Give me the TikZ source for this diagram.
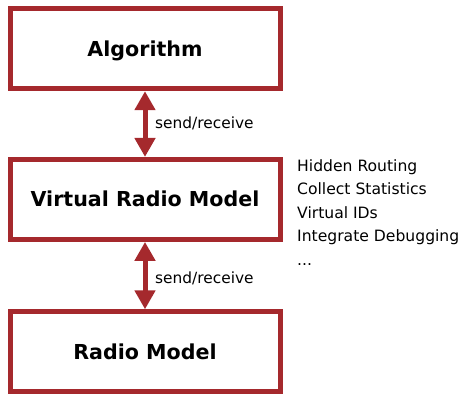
\documentclass[tikz,border=0pt]{standalone}
\usepackage{fontspec}
\setmainfont{DejaVu Sans}
\usetikzlibrary{arrows.meta}
\definecolor{boxred}{RGB}{165,41,45}
\tikzset{
  box/.style={draw=boxred, line width=5pt, fill=white, minimum width=270pt, minimum height=80pt,
    inner sep=0pt, font=\fontsize{20.6}{24}\selectfont\bfseries, text height=15pt, text depth=0pt},
  arr/.style={draw=boxred, line width=5pt, {Triangle[length=19pt,width=20pt]}-{Triangle[length=19pt,width=20pt]}},
  lbl/.style={anchor=base west, inner sep=0pt, font=\fontsize{15.4}{18}\selectfont},
  feat/.style={anchor=base west, inner sep=0pt, font=\fontsize{15.6}{18}\selectfont},
}
\begin{document}
\begin{tikzpicture}[x=1pt,y=-1pt]
\useasboundingbox (0,0) rectangle (462,394);
\node[box] (alg) at (145,48.7) {Algorithm};
\node[box] (vrm) at (145,199.4) {Virtual Radio Model};
\node[box] (rm) at (145,351.8) {Radio Model};
\draw[arr] (alg.south) -- (vrm.north);
\draw[arr] (vrm.south) -- (rm.north);
\node[lbl] (l1) at (155,128.5) {send/receive};
\node[lbl] (l2) at (155,283) {send/receive};
\node[feat] (f1) at (297,171) {Hidden Routing};
\node[feat] (f2) at (297,194.6) {Collect Statistics};
\node[feat] (f3) at (297,218.2) {Virtual IDs};
\node[feat] (f4) at (297,241.8) {Integrate Debugging};
\node[feat] (f5) at (297,265.4) {...};
\end{tikzpicture}
\end{document}
